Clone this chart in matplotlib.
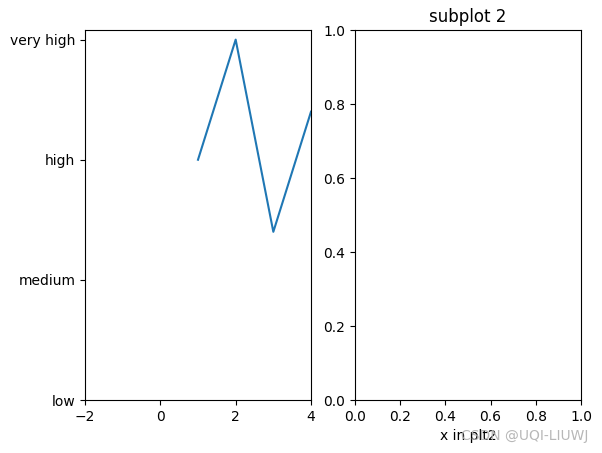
import matplotlib
matplotlib.use('Agg')
import matplotlib.pyplot as plt

x = [1, 2, 3, 4]
y = [2.0, 3.0, 1.4, 2.4]
levels = ['low', 'medium', 'high', 'very high']
level_pos = [0, 1, 2, 3]

fig = plt.figure(figsize=(6.02, 4.53), dpi=100)
W, H = 602, 453

ax1 = fig.add_axes([85/W, (H-400)/H, 226/W, 370/H])
ax1.plot(x, y)
ax1.set_xlim(-2, 4)
ax1.set_ylim(0, 3.08)
ax1.set_yticks(level_pos)
ax1.set_yticklabels(levels)

ax2 = fig.add_axes([355/W, (H-400)/H, 226/W, 370/H])
ax2.set_title('subplot 2')
ax2.set_xlabel('x in plt2')

# watermark
fig.text(588/W, 1 - 436/H, 'CSDN @UQI-LIUWJ', ha='right', va='center',
         color='#b0b0b0', fontsize=10, alpha=0.9)

fig.savefig('out.png', dpi=100)
